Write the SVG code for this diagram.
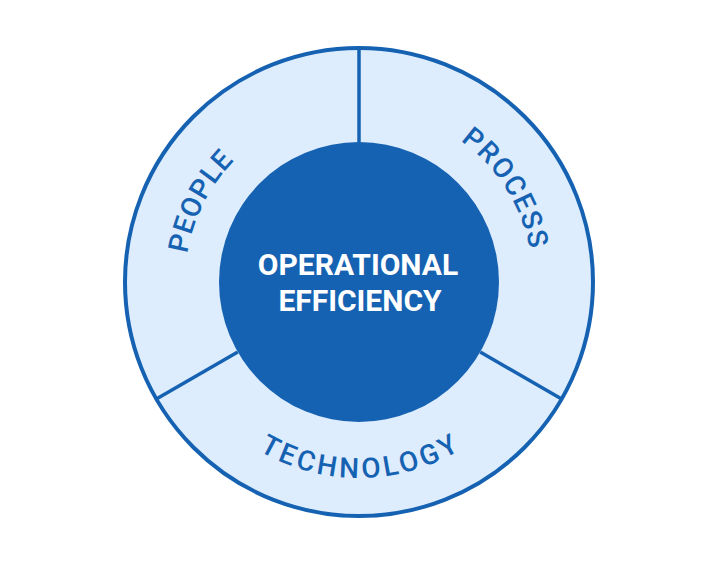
<svg xmlns="http://www.w3.org/2000/svg" width="718" height="565" viewBox="0 0 718 565">
<style>
.ring{fill:#deedfd;stroke:#1662b2;stroke-width:4}
.core{fill:#1662b2}
.div{stroke:#1662b2;stroke-width:3.5;fill:none}
.lbl{font-family:Roboto,"Liberation Sans",sans-serif;font-size:28px;font-weight:500;fill:#1662b2}
.ctr{font-family:Roboto,"Liberation Sans",sans-serif;font-size:30px;font-weight:bold;fill:#ffffff;text-anchor:middle}
</style>
<defs>
<path id="arcPeople" d="M208.31,369 A174,174 0 0 1 359,108"/>
<path id="arcProcess" d="M359,108 A174,174 0 0 1 509.69,369"/>
<path id="arcTech" d="M189.26,380 A196,196 0 0 0 528.74,380"/>
</defs>
<rect width="718" height="565" fill="#ffffff"/>
<g id="ring">
<circle class="ring" cx="359" cy="282" r="234"/>
</g>
<g id="connectors">
<line class="div" x1="359" y1="142" x2="359" y2="48"/>
<line class="div" x1="480.24" y1="352" x2="561.65" y2="399"/>
<line class="div" x1="237.76" y1="352" x2="156.35" y2="399"/>
</g>
<g id="people">
<text class="lbl" letter-spacing="0.8"><textPath href="#arcPeople" startOffset="47.4%" text-anchor="middle">PEOPLE</textPath></text>
</g>
<g id="process">
<text class="lbl" letter-spacing="1.5"><textPath href="#arcProcess" startOffset="48%" text-anchor="middle">PROCESS</textPath></text>
</g>
<g id="technology">
<text class="lbl" letter-spacing="3.4"><textPath href="#arcTech" startOffset="50.5%" text-anchor="middle">TECHNOLOGY</textPath></text>
</g>
<g id="core">
<circle class="core" cx="359" cy="282" r="140"/>
<text class="ctr" x="358" y="275">OPERATIONAL</text>
<text class="ctr" x="360" y="311">EFFICIENCY</text>
</g>
</svg>
